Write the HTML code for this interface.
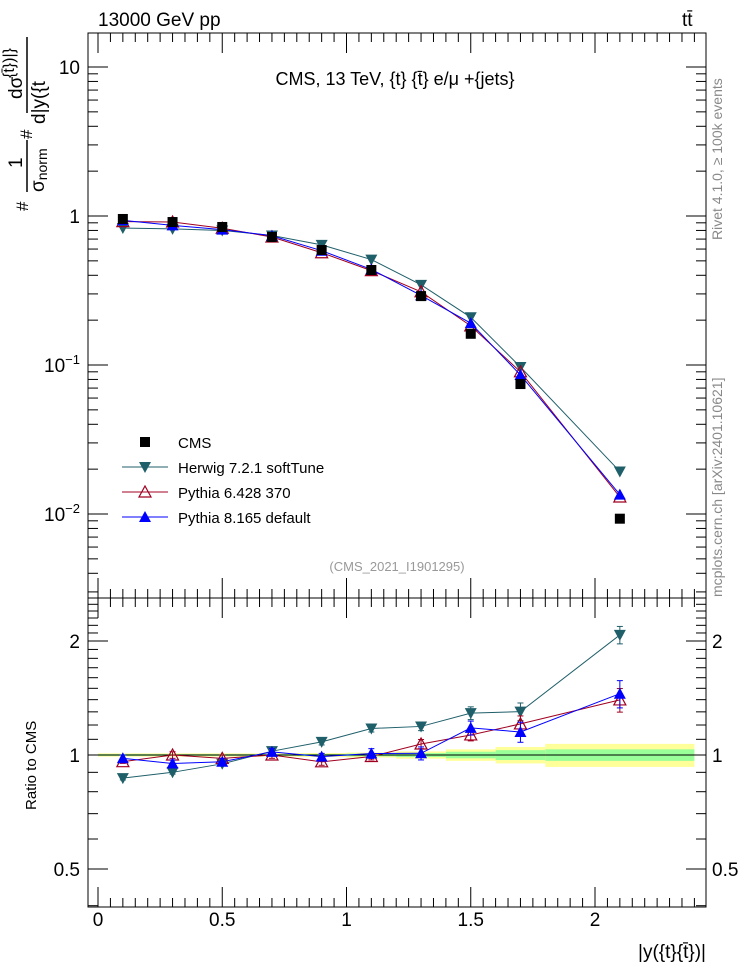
<!DOCTYPE html>
<html><head><meta charset="utf-8"><style>
html,body{margin:0;padding:0;background:#fff;}
svg{display:block;font-family:"Liberation Sans",sans-serif;}
</style></head><body>
<svg id="c" width="746" height="972" viewBox="0 0 746 972" xmlns="http://www.w3.org/2000/svg">
<rect x="0" y="0" width="746" height="972" fill="#fff"/>
<g id="bands"></g>
<g id="axes"></g>
<g id="series"></g>
<text x="98" y="26" font-size="19">13000 GeV pp</text>
<text x="682" y="26" font-size="19">tt̄</text>
<text x="395" y="85" font-size="18" text-anchor="middle">CMS, 13 TeV, {t} {t̄} e/μ +{jets}</text>
<text x="397" y="571" font-size="13" fill="#999" text-anchor="middle">(CMS_2021_I1901295)</text>
<text transform="translate(722,240) rotate(-90)" font-size="14" fill="#888">Rivet 4.1.0, ≥ 100k events</text>
<text transform="translate(722,597) rotate(-90)" font-size="14" fill="#888">mcplots.cern.ch [arXiv:2401.10621]</text>
<g>
<text transform="translate(28,211) rotate(-90)" font-size="17">#</text>
<text transform="translate(22,168) rotate(-90)" font-size="19">1</text>
<line x1="27" y1="140" x2="27" y2="192" stroke="#000" stroke-width="1.5"/>
<text transform="translate(44,192) rotate(-90)" font-size="19">σ<tspan font-size="14" dy="3">norm</tspan></text>
<text transform="translate(32,139) rotate(-90)" font-size="17">#</text>
<text transform="translate(22,99) rotate(-90)" font-size="19">dσ</text>
<line x1="27" y1="37" x2="27" y2="113" stroke="#000" stroke-width="1.5"/>
<text transform="translate(45,124) rotate(-90)" font-size="19">d|y({t</text>
<text transform="translate(14,78) rotate(-90)" font-size="16">{t̄})|}</text>
</g>
<text transform="translate(36,810) rotate(-90)" font-size="15">Ratio to CMS</text>
<text x="706" y="958" font-size="19" text-anchor="end">|y({t}{t̄})|</text>
<g id="legend"></g>
</svg>
<script>
const xs = [0.1,0.3,0.5,0.7,0.9,1.1,1.3,1.5,1.7,2.1];
const cms = [0.955,0.911,0.844,0.723,0.591,0.434,0.290,0.162,0.0745,0.0093];
const herwig = [0.83,0.82,0.80,0.74,0.64,0.51,0.345,0.209,0.097,0.0193];
const pythia6 = [0.917,0.911,0.827,0.723,0.567,0.430,0.310,0.183,0.090,0.0130];
const pythia8 = [0.936,0.865,0.810,0.737,0.585,0.438,0.293,0.191,0.0857,0.0135];
const herwigErr = [0.01,0.01,0.01,0.015,0.02,0.025,0.03,0.05,0.07,0.11];
const pythia6Err = [0.01,0.02,0.02,0.02,0.02,0.02,0.03,0.04,0.06,0.10];
const pythia8Err = [0.02,0.02,0.02,0.02,0.02,0.03,0.04,0.05,0.07,0.12];
const bandEdges = [0,0.2,0.4,0.6,0.8,1.0,1.2,1.4,1.6,1.8,2.4];
const bandYellow = [0.01,0.01,0.01,0.01,0.012,0.015,0.022,0.035,0.05,0.07];
const bandGreen = [0.005,0.005,0.005,0.005,0.006,0.008,0.012,0.02,0.03,0.035];
const xTickLabels = ["0","0.5","1","1.5","2"];
const xTickVals = [0,0.5,1,1.5,2];
const mainTickVals = [10,1,0.1,0.01];
const mainTickLabels = ["10","1","10^-1","10^-2"];
const ratioTickVals = [2,1,0.5];
const ratioTickLabels = ["2","1","0.5"];

const NS="http://www.w3.org/2000/svg";
const L=88,R=706,MT=33,MB=598,RT=598,RB=907;
const X=v=>98+248.5*v;
const Y=v=>216-149*Math.log10(v);
const YR=v=>755-114*Math.log2(v);
function mk(tag,parent,attrs){const e=document.createElementNS(NS,tag);for(const k in attrs)e.setAttribute(k,attrs[k]);parent.appendChild(e);return e;}
const axes=document.getElementById('axes'),ser=document.getElementById('series'),bands=document.getElementById('bands'),leg=document.getElementById('legend');

for(let i=0;i<bandYellow.length;i++){
  const x1=X(bandEdges[i]),x2=X(bandEdges[i+1]);
  let r=mk('rect',bands,{x:x1,y:YR(1+bandYellow[i]),width:x2-x1,height:YR(1-bandYellow[i])-YR(1+bandYellow[i]),fill:'#ffff99'});
  
  
  r=mk('rect',bands,{x:x1,y:YR(1+bandGreen[i]),width:x2-x1,height:YR(1-bandGreen[i])-YR(1+bandGreen[i]),fill:'#99ff99'});
  
  
}
let ln=mk('line',axes,{x1:L,x2:R,y1:YR(1),y2:YR(1),stroke:'#000','stroke-width':1});



for(const [t,b] of [[MT,MB],[RT,RB]]){
  const f=mk('rect',axes,{x:L,y:t,width:R-L,height:b-t,fill:'none',stroke:'#000','stroke-width':1});
  
  
  for(let k=0;k<=48;k++){const v=k*0.05;const px=X(v);if(px>R)break;const big=(k%10===0);const len=big?20:9;
    mk('line',axes,{x1:px,x2:px,y1:b,y2:b-len,stroke:'#000'});mk('line',axes,{x1:px,x2:px,y1:t,y2:t+len,stroke:'#000'});}
}
xTickVals.forEach((v,i)=>{const t=mk('text',axes,{x:X(v),y:926,'font-size':19,'text-anchor':'middle'});t.textContent=xTickLabels[i];
  
  });
for(let d=-3;d<=1;d++){for(let m=1;m<10;m++){const v=m*Math.pow(10,d);const py=Y(v);if(py<MT||py>MB)continue;const len=m===1?20:10;
  mk('line',axes,{x1:L,x2:L+len,y1:py,y2:py,stroke:'#000'});mk('line',axes,{x1:R,x2:R-len,y1:py,y2:py,stroke:'#000'});}}
mainTickVals.forEach((v,i)=>{const lab=mainTickLabels[i];const t=mk('text',axes,{x:80,y:Y(v)+7,'font-size':19,'text-anchor':'end'});
  if(lab.indexOf('^')>=0){const p=lab.split('^');t.textContent=p[0];const s=mk('tspan',t,{dy:-8,'font-size':13});s.textContent=p[1].replace('-','−');}
  else t.textContent=lab;
  
  });
for(let v=0.4;v<=2.6;v+=0.1){const py=YR(v);if(py<RT||py>RB)continue;const big=Math.abs(v-1)<1e-6||Math.abs(v-2)<1e-6||Math.abs(v-0.5)<1e-6;const len=big?20:10;
  mk('line',axes,{x1:L,x2:L+len,y1:py,y2:py,stroke:'#000'});mk('line',axes,{x1:R,x2:R-len,y1:py,y2:py,stroke:'#000'});}
ratioTickVals.forEach((v,i)=>{let t=mk('text',axes,{x:80,y:YR(v)+7,'font-size':19,'text-anchor':'end'});t.textContent=ratioTickLabels[i];
  
  
  t=mk('text',axes,{x:712,y:YR(v)+7,'font-size':19});t.textContent=ratioTickLabels[i];
  
  });

function marker(g,type,cx,cy,col){
  if(type==='sq')mk('rect',g,{x:cx-5,y:cy-5,width:10,height:10,fill:'#000'});
  else if(type==='down')mk('polygon',g,{points:`${cx-6},${cy-5} ${cx+6},${cy-5} ${cx},${cy+6}`,fill:col});
  else if(type==='up')mk('polygon',g,{points:`${cx-6},${cy+5} ${cx+6},${cy+5} ${cx},${cy-6}`,fill:col});
  else if(type==='upo')mk('polygon',g,{points:`${cx-6},${cy+5} ${cx+6},${cy+5} ${cx},${cy-6}`,fill:'none',stroke:col,'stroke-width':1.2});
}
const mcs=[[herwig,herwigErr,'#1f5f6a','down','herwig'],[pythia6,pythia6Err,'#a00020','upo','pythia6'],[pythia8,pythia8Err,'#0000ff','up','pythia8']];
for(const [vals,err,col,mt,nm] of mcs){
  const g=mk('g',ser,{});
  
  
  mk('polyline',g,{points:xs.map((x,i)=>X(x)+','+Y(vals[i])).join(' '),fill:'none',stroke:col,'stroke-width':1});
  xs.forEach((x,i)=>marker(g,mt,X(x),Y(vals[i]),col));
  const gr=mk('g',ser,{});
  
  
  mk('polyline',gr,{points:xs.map((x,i)=>X(x)+','+YR(vals[i]/cms[i])).join(' '),fill:'none',stroke:col,'stroke-width':1});
  xs.forEach((x,i)=>{const r=vals[i]/cms[i],px=X(x);const y1=YR(r+err[i]),y2=YR(r-err[i]);
    mk('line',gr,{x1:px,x2:px,y1:y1,y2:y2,stroke:col});
    mk('line',gr,{x1:px-3,x2:px+3,y1:y1,y2:y1,stroke:col});mk('line',gr,{x1:px-3,x2:px+3,y1:y2,y2:y2,stroke:col});
    marker(gr,mt,px,YR(r),col);});
}
const gc=mk('g',ser,{});


xs.forEach((x,i)=>marker(gc,'sq',X(x),Y(cms[i])));

const legItems=[['CMS','sq','#000'],['Herwig 7.2.1 softTune','down','#1f5f6a'],['Pythia 6.428 370','upo','#a00020'],['Pythia 8.165 default','up','#0000ff']];
legItems.forEach((it,i)=>{const y=442+i*25;const g=mk('g',leg,{});
  
  
  if(it[1]!=='sq')mk('line',g,{x1:122,x2:168,y1:y,y2:y,stroke:it[2]});
  marker(g,it[1],145,y,it[2]);
  const t=mk('text',g,{x:178,y:y+6,'font-size':15});t.textContent=it[0];});
</script>
</body></html>
